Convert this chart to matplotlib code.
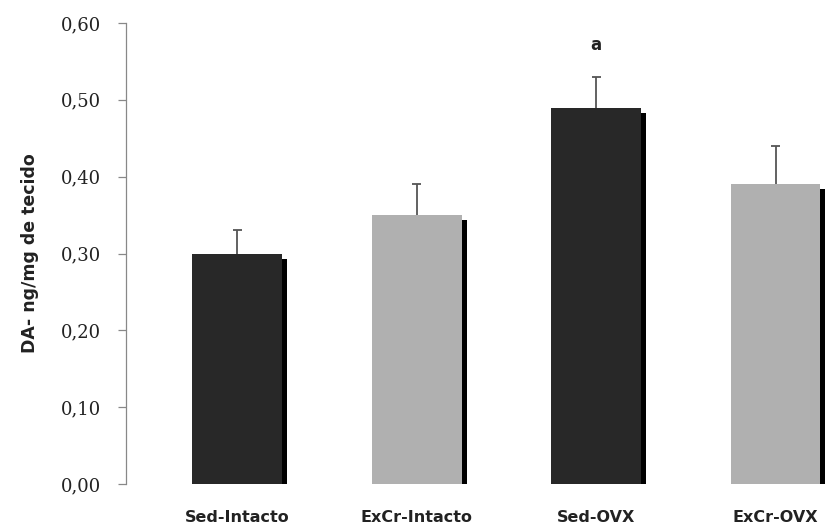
import matplotlib
matplotlib.use('Agg')
import matplotlib.pyplot as plt
import matplotlib.patheffects as pe
import numpy as np

# data
groups = ['Sed-Intacto', 'ExCr-Intacto', 'Sed-OVX', 'ExCr-OVX']
means = [0.30, 0.35, 0.49, 0.39]
errors = [0.03, 0.04, 0.04, 0.05]
signif = ['', '', 'a', '']
yticks = [0.0, 0.1, 0.2, 0.3, 0.4, 0.5, 0.6]

colors = ['#282828', '#b0b0b0', '#282828', '#b0b0b0']

fig = plt.figure(figsize=(8.33, 5.24), dpi=100)
ax = fig.add_axes([126/833, 1-484/524, 1-126/833, (484-23)/524])

x = np.arange(len(groups))
tops = np.array(means) + np.array(errors)

# upper-only error bars, drawn under the bars
ax.vlines(x, means, tops, color='#555555', linewidth=1.3, zorder=1)
ax.hlines(tops, x - 0.025, x + 0.025, color='#555555', linewidth=1.3, zorder=1)

bars = ax.bar(x, means, width=0.5, color=colors, zorder=2)
for b in bars:
    b.set_path_effects([pe.SimplePatchShadow(offset=(3.6, -3.6), shadow_rgbFace='black', alpha=1.0),
                        pe.Normal()])

for xi, t, s in zip(x, tops, signif):
    if s:
        ax.text(xi, t + 0.03, s, ha='center', va='bottom', fontsize=12,
                fontweight='bold', family='DejaVu Sans', color='#222222')

ax.set_xlim(-0.62, 3.32)
ax.set_ylim(0, 0.6)
ax.set_yticks(yticks)
ax.set_yticklabels([('%.2f' % v).replace('.', ',') for v in yticks],
                   family='DejaVu Serif', fontsize=13, color='#222222')
ax.set_xticks(x)
ax.set_xticklabels(groups, family='DejaVu Sans', fontweight='bold', fontsize=11.5, color='#222222')
ax.tick_params(axis='x', length=0, pad=19)
ax.tick_params(axis='y', direction='out', length=6, width=0.9, color='#888888', pad=12)

for side in ['top', 'right', 'bottom']:
    ax.spines[side].set_visible(False)
ax.spines['left'].set_color('#888888')
ax.spines['left'].set_linewidth(0.9)

ax.set_ylabel('DA- ng/mg de tecido', family='DejaVu Sans', fontweight='bold', fontsize=12.5,
              color='#222222', labelpad=16)

fig.savefig('out.png', dpi=100)
